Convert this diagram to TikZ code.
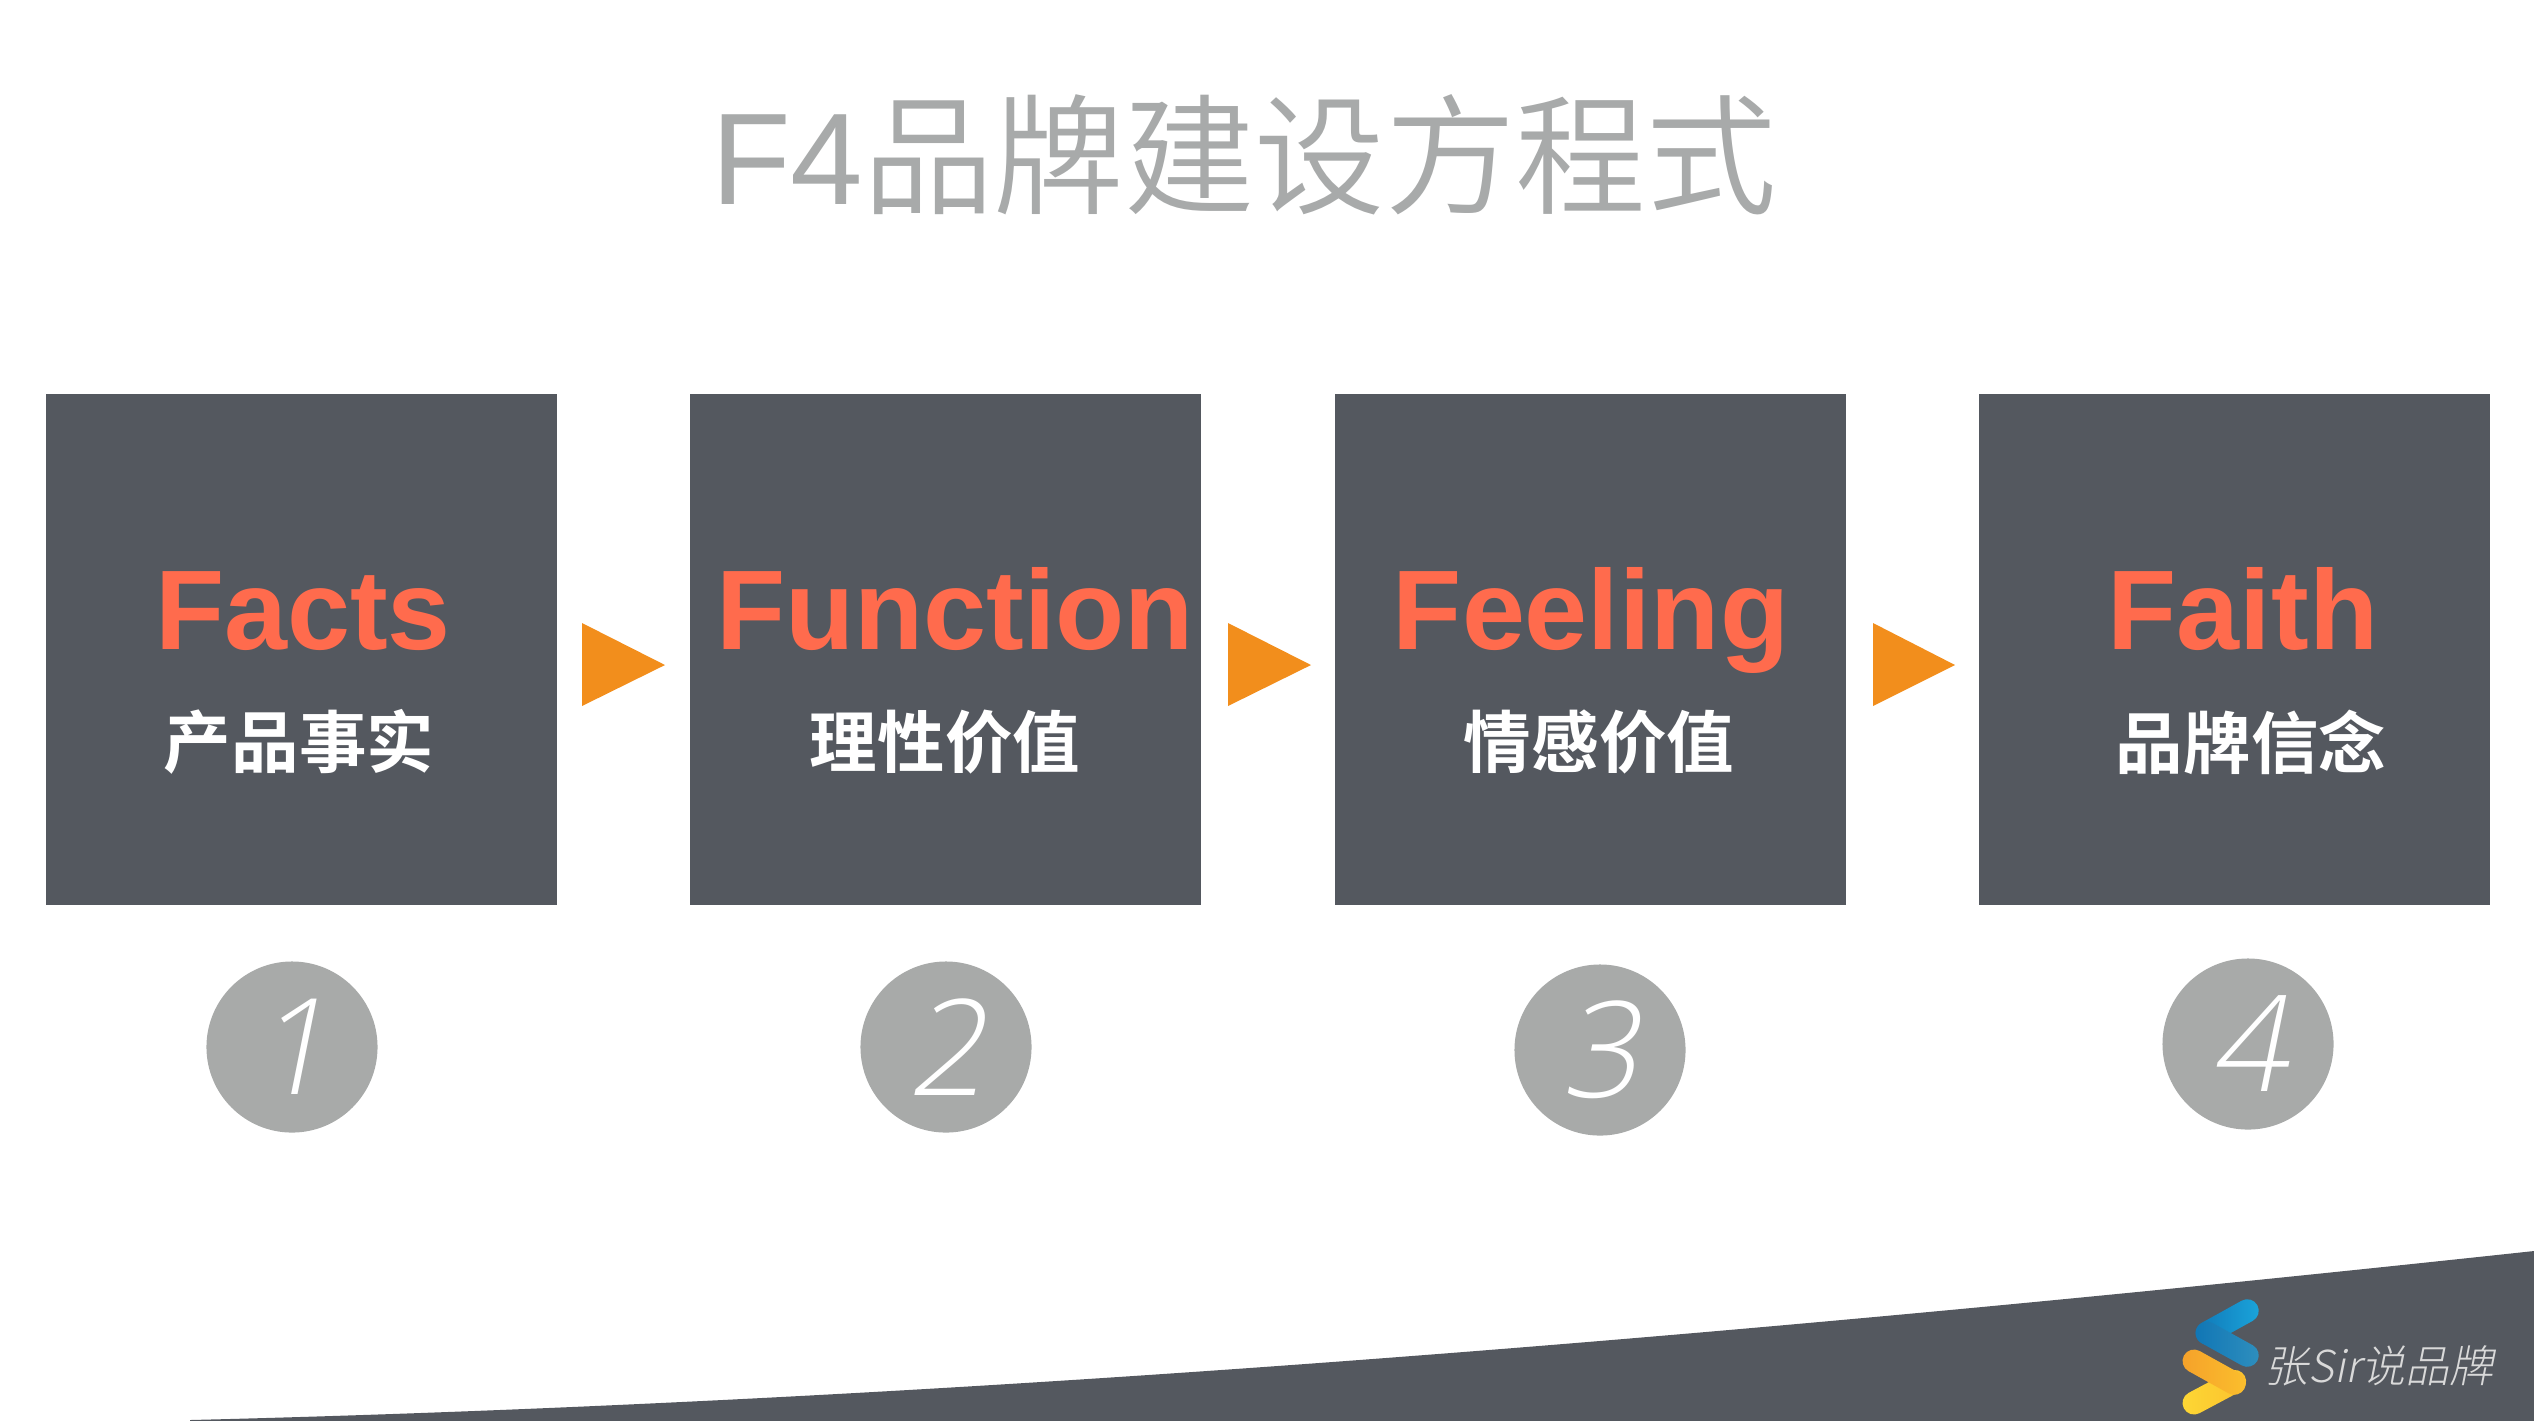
\documentclass[tikz,border=0pt]{standalone}
\usepackage{fontspec}
\setmainfont{Liberation Sans}
\newfontfamily\cjkbold{Noto Sans CJK SC Bold}
\newfontfamily\cjklight{Noto Sans CJK SC DemiLight}
\newfontfamily\logofont[FakeSlant=0.2]{Noto Sans CJK SC Light}
\newfontfamily\numfont[FakeSlant=0.2]{Open Sans Light}
\definecolor{boxgray}{HTML}{54585F}
\definecolor{headred}{HTML}{FF6B4D}
\definecolor{tipoange}{HTML}{F28E1C}
\definecolor{dotgray}{HTML}{A8AAA9}
\definecolor{titlegray}{HTML}{A8AAAA}
\definecolor{logoblue}{HTML}{1BA6DC}
\definecolor{logodeep}{HTML}{0F75B5}
\definecolor{logopale}{HTML}{3090BE}
\definecolor{logoamber}{HTML}{F5A02A}
\definecolor{logogold}{HTML}{FBC02D}
\definecolor{logolemon}{HTML}{FDD835}
\tikzset{
  stagebox/.style={fill=boxgray,minimum size=5.11cm,inner sep=0pt},
  headtext/.style={anchor=base,text=headred,inner sep=0pt,font=\fontsize{32.2}{34}\bfseries},
  subtext/.style={text=white,inner sep=0pt,font=\fontsize{19.2}{22}\cjkbold},
  numdot/.style={circle,fill=dotgray,minimum size=1.71cm,inner sep=0pt,text=white,font=\fontsize{38}{40}\numfont},
  tipfill/.style={fill=tipoange},
  logobar/.style={rounded corners=0.115cm}
}
\begin{document}
\begin{tikzpicture}[x=0.01cm,y=-0.01cm]
\useasboundingbox (0,0) rectangle (2534,1420);
\clip (0,0) rectangle (2534,1420);
\node [text=titlegray,inner sep=0pt,font=\fontsize{37.1}{40}\cjklight] (title) at (1244,155) {\rmfamily F4\cjklight 品牌建设方程式};
\node [stagebox] (facts) at (301.5,649.5) {};
\node [stagebox] (function) at (945.5,649.5) {};
\node [stagebox] (feeling) at (1590.5,649.5) {};
\node [stagebox] (faith) at (2234.5,649.5) {};
\node [headtext] (factshead) at (303,649) {Facts};
\node [headtext] (functionhead) at (955,649) {Function};
\node [headtext] (feelinghead) at (1591,649) {Feeling};
\node [headtext] (faithhead) at (2243,649) {Faith};
\node [subtext] (factssub) at (299,742) {产品事实};
\node [subtext] (functionsub) at (945,742) {理性价值};
\node [subtext] (feelingsub) at (1599,742) {情感价值};
\node [subtext] (faithsub) at (2251,742) {品牌信念};
\fill [tipfill] (582,623) -- (665,665) -- (582,706) -- cycle;
\fill [tipfill] (1228,623) -- (1311,665) -- (1228,706) -- cycle;
\fill [tipfill] (1873,623) -- (1955,665) -- (1873,706) -- cycle;
\node [numdot] (one) at (292,1047) {1};
\node [numdot] (two) at (946,1047) {2};
\node [numdot] (three) at (1600,1050) {3};
\node [numdot] (four) at (2248,1044) {4};
\fill [boxgray] (190,1420) .. controls (1000,1400) and (1800,1330) .. (2534,1251) -- (2540,1251) -- (2540,1430) -- (190,1430) -- cycle;
\shade [left color=logolemon,right color=logogold,rotate around={28:(2194,1403)},logobar] (2182.5,1391.5) rectangle (2251.5,1414.5);
\shade [left color=logoamber,right color=logogold,rotate around={-29:(2194,1361)},logobar] (2182.5,1349.5) rectangle (2251.5,1372.5);
\shade [left color=logodeep,right color=logoblue,rotate around={29:(2207,1333)},logobar] (2195.5,1321.5) rectangle (2264.5,1344.5);
\shade [left color=logodeep,right color=logopale,rotate around={-29:(2207,1333)},logobar] (2195.5,1321.5) rectangle (2264.5,1344.5);
\node [text=white!85!black,inner sep=0pt,font=\fontsize{12.5}{14}\logofont] (logotext) at (2379,1366) {张Sir说品牌};
\end{tikzpicture}
\end{document}
